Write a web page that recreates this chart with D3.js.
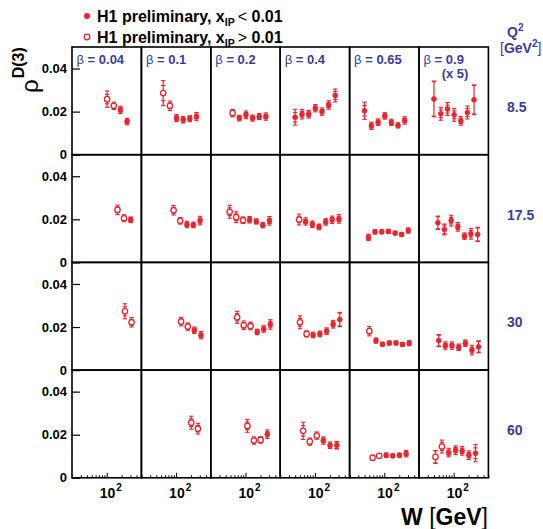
<!doctype html>
<html lang="en">

<head>
	<meta charset="utf-8">
	<title>rho D(3) versus W</title>
	<style>
		body { margin: 0; background: #fff; }
		svg text { font-family: "Liberation Sans", Arial, Helvetica, sans-serif; }
	</style>
</head>

<body>
	<svg id="ChartArea" width="543" height="529"></svg>

	<script src="https://cdn.jsdelivr.net/npm/d3@7/dist/d3.min.js"></script>
	<script>
		var n = null;

		// columns: beta bins, rows: Q2 bins
		var betaLabels = [ "0.04", "0.1", "0.2", "0.4", "0.65", "0.9" ];
		var q2Labels = [ "8.5", "17.5", "30", "60" ];
		var yTicks = [ 0, 0.02, 0.04 ];
		var xMinorTicks = [ 20, 30, 40, 50, 60, 70, 80, 90, 200, 300, 400, 500 ];
		var xMajorTicks = [ 100 ];

		// W bin centres [GeV] for each Q2 row
		var wGrid = [
			[ 40, 55, 75, 102, 139, 189, 257 ],
			[ 48, 65, 89, 121, 165, 223, 304 ],
			[ 50, 68, 92, 126, 172, 233, 317 ],
			[ 43, 58, 79, 109, 148, 202, 275 ]
		];

		// rho^D(3) per beta panel, aligned with wGrid (beta = 0.9 already x 5)
		var rhoQ8 = [
			[ n, n, n, .0258, .0227, .0208, .0154 ],
			[ n, .0286, .0227, .0170, .0162, .0167, .0177 ],
			[ n, .0193, .0170, .0185, .0170, .0177, .0177 ],
			[ .0174, .0188, .0188, .0216, .0200, .0231, .0275 ],
			[ .0204, .0134, .0151, .0180, .0150, .0136, .0159 ],
			[ .0259, .0190, .0212, .0185, .0157, .0196, .0255 ]
		];
		var rhoQ17 = [
			[ n, n, n, n, .0244, .0205, .0198 ],
			[ n, n, .0242, .0193, .0176, .0174, .0194 ],
			[ .0235, .0210, .0196, .0198, .0190, .0173, .0193 ],
			[ .0199, .0190, .0177, .0165, .0188, .0198, .0202 ],
			[ .0116, .0142, .0142, .0144, .0136, .0130, .0148 ],
			[ .0184, .0153, .0194, .0165, .0122, .0133, .0130 ]
		];
		var rhoQ30 = [
			[ n, n, n, n, n, .0273, .0222 ],
			[ n, n, n, .0225, .0202, .0185, .0162 ],
			[ n, .0245, .0208, .0205, .0177, .0191, .0212 ],
			[ .0222, .0168, .0163, .0168, .0181, .0213, .0235 ],
			[ .0181, .0137, .0120, .0126, .0126, .0119, .0125 ],
			[ .0137, .0114, .0114, .0106, .0125, .0093, .0108 ]
		];
		var rhoQ60 = [
			[ n, n, n, n, n, n, n ],
			[ n, n, n, n, n, .0256, .0228 ],
			[ n, n, n, .0241, .0173, .0176, .0202 ],
			[ n, .0218, .0168, .0196, .0173, .0151, .0151 ],
			[ n, .0093, .0102, .0105, .0102, .0105, .0112 ],
			[ .0097, .0145, .0117, .0128, .0125, .0105, .0114 ]
		];

		// total errors
		var totQ8 = [
			[ n, n, n, .0038, .0017, .0017, .0015 ],
			[ n, .0058, .0022, .0016, .0015, .0014, .0019 ],
			[ n, .0017, .0013, .0018, .0014, .0014, .0017 ],
			[ .0037, .0022, .0018, .0017, .0017, .0020, .0030 ],
			[ .0040, .0017, .0015, .0015, .0015, .0012, .0017 ],
			[ .0083, .0030, .0030, .0030, .0020, .0030, .0069 ]
		];
		var totQ17 = [
			[ n, n, n, n, .0022, .0016, .0013 ],
			[ n, n, .0022, .0015, .0015, .0013, .0020 ],
			[ .0030, .0025, .0015, .0015, .0012, .0012, .0020 ],
			[ .0025, .0017, .0015, .0013, .0015, .0017, .0020 ],
			[ .0015, .0010, .0009, .0009, .0008, .0008, .0012 ],
			[ .0031, .0025, .0025, .0020, .0015, .0025, .0033 ]
		];
		var totQ30 = [
			[ n, n, n, n, n, .0035, .0022 ],
			[ n, n, n, .0020, .0017, .0015, .0017 ],
			[ n, .0028, .0020, .0018, .0013, .0015, .0022 ],
			[ .0030, .0014, .0013, .0013, .0015, .0018, .0033 ],
			[ .0022, .0012, .0009, .0009, .0009, .0008, .0012 ],
			[ .0028, .0017, .0017, .0015, .0015, .0022, .0028 ]
		];
		var totQ60 = [
			[ n, n, n, n, n, n, n ],
			[ n, n, n, n, n, .0030, .0025 ],
			[ n, n, n, .0030, .0017, .0015, .0020 ],
			[ n, .0040, .0017, .0017, .0017, .0015, .0017 ],
			[ n, .0012, .0009, .0010, .0008, .0009, .0015 ],
			[ .0030, .0030, .0020, .0020, .0020, .0020, .0040 ]
		];

		// statistical errors
		var statQ8 = [
			[ n, n, n, .0022, .0011, .0010, .0009 ],
			[ n, .0035, .0013, .0010, .0009, .0009, .0011 ],
			[ n, .0010, .0008, .0011, .0008, .0008, .0010 ],
			[ .0022, .0013, .0011, .0010, .0010, .0012, .0018 ],
			[ .0024, .0010, .0009, .0009, .0009, .0007, .0010 ],
			[ .0080, .0018, .0018, .0018, .0012, .0018, .0066 ]
		];
		var statQ17 = [
			[ n, n, n, n, .0013, .0010, .0008 ],
			[ n, n, .0013, .0009, .0009, .0008, .0012 ],
			[ .0018, .0015, .0009, .0009, .0007, .0007, .0012 ],
			[ .0015, .0010, .0009, .0008, .0009, .0010, .0012 ],
			[ .0009, .0006, .0005, .0005, .0005, .0005, .0007 ],
			[ .0028, .0020, .0015, .0012, .0009, .0015, .0030 ]
		];
		var statQ30 = [
			[ n, n, n, n, n, .0021, .0013 ],
			[ n, n, n, .0012, .0010, .0009, .0010 ],
			[ n, .0017, .0012, .0011, .0008, .0009, .0013 ],
			[ .0018, .0008, .0008, .0008, .0009, .0011, .0030 ],
			[ .0013, .0007, .0005, .0005, .0005, .0005, .0007 ],
			[ .0025, .0010, .0010, .0009, .0009, .0013, .0025 ]
		];
		var statQ60 = [
			[ n, n, n, n, n, n, n ],
			[ n, n, n, n, n, .0018, .0015 ],
			[ n, n, n, .0018, .0010, .0009, .0012 ],
			[ n, .0024, .0010, .0010, .0010, .0009, .0015 ],
			[ n, .0007, .0005, .0006, .0005, .0005, .0009 ],
			[ .0028, .0018, .0012, .0012, .0012, .0012, .0025 ]
		];

		// how many of the lowest-W points in each panel have x_IP > 0.01 (open markers)
		var openCount = [
			[ 2, 2, 1, 0, 0, 0 ],
			[ 2, 2, 3, 1, 0, 0 ],
			[ 2, 2, 3, 2, 1, 0 ],
			[ 0, 2, 3, 3, 2, 2 ]
		];

		(function () {
			"use strict"

			var rho = [ rhoQ8, rhoQ17, rhoQ30, rhoQ60 ],
				tot = [ totQ8, totQ17, totQ30, totQ60 ],
				stat = [ statQ8, statQ17, statQ30, statQ60 ];

			var RED = "#e6252e",
				BLUE = "#3b3c98",
				left = 72, top = 47,
				colW = 69.4, rowH = 107.7,
				capW = 2.2;

			var svg = d3.select("#ChartArea");

			var yFmt = function (d) { return d === 0 ? "0" : d3.format(".2f")(d); };

			q2Labels.forEach(function (q2, r) {
				var y = d3.scaleLinear([ 0, 0.05 ], [ top + (r + 1) * rowH, top + r * rowH ]);

				betaLabels.forEach(function (beta, c) {
					var x = d3.scaleLog([ 20, 500 ], [ left + c * colW, left + (c + 1) * colW ]),
						g = svg.append("g");

					// panel frame
					g.append("rect")
						.attr("x", x.range()[0]).attr("y", y.range()[1])
						.attr("width", colW).attr("height", rowH)
						.attr("fill", "none").attr("stroke", "#000").attr("stroke-width", 1.6);

					if (c === 0) {
						var ya = g.append("g")
							.attr("transform", "translate(" + x.range()[0] + ",0)")
							.call(d3.axisLeft(y).tickValues(yTicks).tickSize(-8).tickPadding(5).tickFormat(yFmt));
						ya.select(".domain").remove();
						ya.selectAll("line").attr("stroke-width", 1.2);
						ya.selectAll("text")
							.attr("font-family", "Liberation Sans, Arial, sans-serif")
							.attr("font-size", 13).attr("font-weight", "bold").attr("fill", "#000");
					}

					if (r === q2Labels.length - 1) {
						var base = y.range()[0];
						var xm = g.append("g")
							.attr("transform", "translate(0," + base + ")")
							.call(d3.axisBottom(x).tickValues(xMinorTicks).tickSize(-2.5).tickFormat(""));
						xm.select(".domain").remove();
						var xM = g.append("g")
							.attr("transform", "translate(0," + base + ")")
							.call(d3.axisBottom(x).tickValues(xMajorTicks).tickSize(-5).tickFormat(""));
						xM.select(".domain").remove();

						xMajorTicks.forEach(function (t) {
							var lbl = g.append("text")
								.attr("x", x(t) - 7).attr("y", base + 20.5)
								.attr("font-size", 14).attr("font-weight", "bold");
							lbl.append("tspan").text("10");
							lbl.append("tspan").attr("dy", -7).attr("dx", 1).attr("font-size", 10).text("2");
						});
					}

					// beta label
					var bl = g.append("text")
						.attr("x", x.range()[0] + 4.5).attr("y", top + 17)
						.attr("font-size", 13).attr("font-weight", "bold").attr("fill", BLUE);
					if (r === 0) {
						bl.append("tspan").attr("font-weight", "normal").text("\u03b2");
						bl.append("tspan").text(" = " + beta);
						if (c === 5) {
							g.append("text")
								.attr("x", x.range()[0] + 36).attr("y", top + 30.5)
								.attr("text-anchor", "middle")
								.attr("font-size", 13).attr("font-weight", "bold").attr("fill", BLUE)
								.text("(x 5)");
						}
					}

					// data points with stat + total error bars
					var nOpen = openCount[r][c], seen = 0;
					rho[r][c].forEach(function (v, i) {
						if (v === null) return;
						var px = x(wGrid[r][i]),
							et = tot[r][c][i], es = stat[r][c][i],
							open = seen < nOpen;
						seen++;

						g.append("line")
							.attr("x1", px).attr("x2", px)
							.attr("y1", y(v - et)).attr("y2", y(v + et))
							.attr("stroke", RED).attr("stroke-width", 1.2);
						[ v - et, v + et, v - es, v + es ].forEach(function (e) {
							g.append("line")
								.attr("x1", px - capW).attr("x2", px + capW)
								.attr("y1", y(e)).attr("y2", y(e))
								.attr("stroke", RED).attr("stroke-width", 1.1);
						});
						g.append("circle")
							.attr("cx", px).attr("cy", y(v))
							.attr("r", open ? 2.7 : 2.5)
							.attr("fill", open ? "#fff" : RED)
							.attr("stroke", RED).attr("stroke-width", open ? 1.3 : 0.6);
					});
				});

				// Q2 value on the right
				svg.append("text")
					.attr("x", 507).attr("y", top + r * rowH + 65)
					.attr("font-size", 14).attr("font-weight", "bold").attr("fill", BLUE)
					.text(q2);
			});

			// Q2 header
			var qh = svg.append("text")
				.attr("x", 507).attr("y", 37)
				.attr("font-size", 14).attr("font-weight", "bold").attr("fill", BLUE);
			qh.append("tspan").text("Q");
			qh.append("tspan").attr("dy", -6).attr("font-size", 10).text("2");

			var gh = svg.append("text")
				.attr("x", 500).attr("y", 53)
				.attr("font-size", 14).attr("font-weight", "bold").attr("fill", BLUE);
			gh.append("tspan").attr("font-weight", "normal").text("[");
			gh.append("tspan").text("GeV");
			gh.append("tspan").attr("dy", -6).attr("font-size", 10).text("2");
			gh.append("tspan").attr("dy", 6).attr("font-weight", "normal").text("]");

			// legend
			[ { open: false, sign: "<", y: 16 }, { open: true, sign: ">", y: 37 } ].forEach(function (d) {
				svg.append("circle")
					.attr("cx", 87).attr("cy", d.y).attr("r", 2.8)
					.attr("fill", d.open ? "#fff" : RED)
					.attr("stroke", RED).attr("stroke-width", d.open ? 1.3 : 0.6);
				var t = svg.append("text")
					.attr("x", 97).attr("y", d.y + 5.5)
					.attr("font-size", 16).attr("font-weight", "bold").attr("fill", "#000");
				t.append("tspan").text("H1 preliminary, x");
				t.append("tspan").attr("dy", 4).attr("font-size", 10.5).text("IP");
				t.append("tspan").attr("dy", -4).attr("dx", 3).attr("font-weight", "normal").text(d.sign);
				t.append("tspan").text(" 0.01");
			});

			// y title
			var yt = svg.append("text")
				.attr("transform", "translate(38,93) rotate(-90)")
				.attr("font-size", 24).attr("fill", "#000");
			yt.append("tspan").text("\u03c1");
			yt.append("tspan").attr("dy", -14).attr("dx", 1).attr("font-size", 16).attr("font-weight", "bold").text("D(3)");

			// x title
			var xt = svg.append("text")
				.attr("x", 488).attr("y", 525).attr("text-anchor", "end")
				.attr("font-size", 23).attr("font-weight", "bold").attr("fill", "#000");
			xt.append("tspan").text("W ");
			xt.append("tspan").attr("font-weight", "normal").text("[");
			xt.append("tspan").text("GeV");
			xt.append("tspan").attr("font-weight", "normal").text("]");
		})();
	</script>
</body>

</html>
